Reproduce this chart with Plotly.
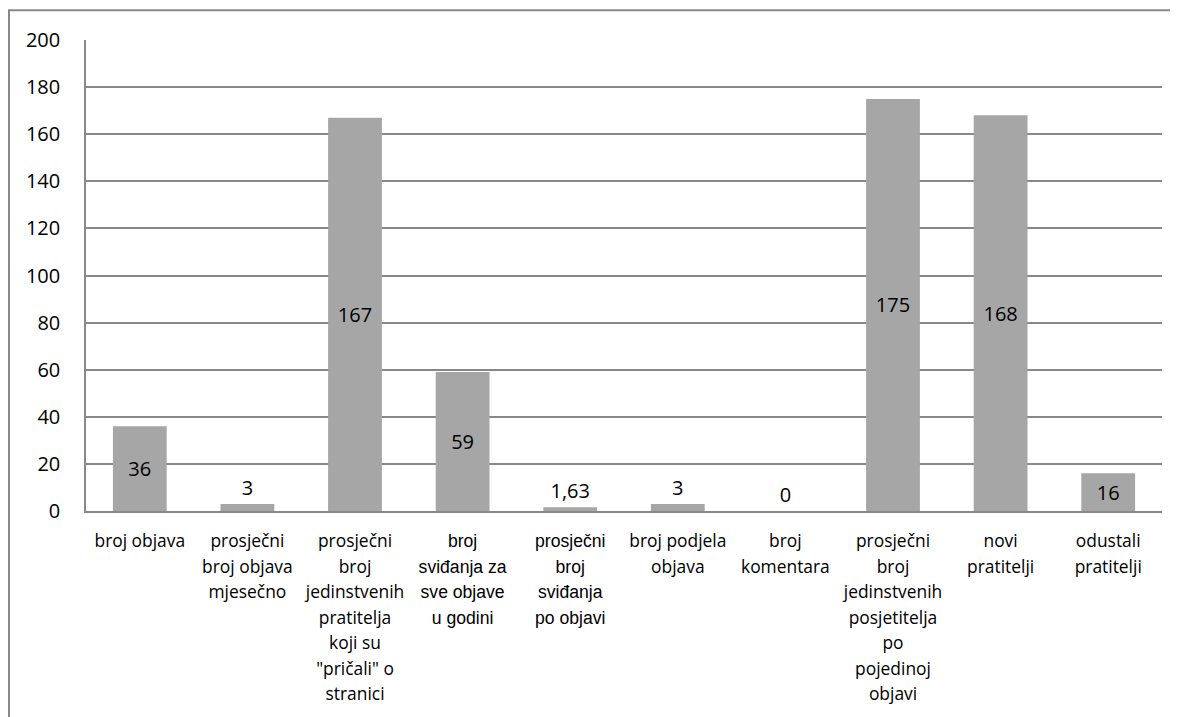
import plotly.graph_objects as go

categories = [
    "broj objava",
    "prosječni<br>broj objava<br>mjesečno",
    "prosječni<br>broj<br>jedinstvenih<br>pratitelja<br>koji su<br>\"pričali\" o<br>stranici",
    "broj<br>sviđanja za<br>sve objave<br>u godini",
    "prosječni<br>broj<br>sviđanja<br>po objavi",
    "broj podjela<br>objava",
    "broj<br>komentara",
    "prosječni<br>broj<br>jedinstvenih<br>posjetitelja<br>po<br>pojedinoj<br>objavi",
    "novi<br>pratitelji",
    "odustali<br>pratitelji",
]
values = [36, 3, 167, 59, 1.63, 3, 0, 175, 168, 16]
value_labels = ["36", "3", "167", "59", "1,63", "3", "0", "175", "168", "16"]
y_ticks = [0, 20, 40, 60, 80, 100, 120, 140, 160, 180, 200]

FONT = "Open Sans"
arial_idx = {3, 4}
ticktext = []
for i, c in enumerate(categories):
    if i in arial_idx:
        ticktext.append("<span style=\"font-family:'Liberation Sans';font-size:17.6px\">" + c + "</span>")
    else:
        ticktext.append('<span style="font-size:17.4px">' + c + '</span>')

positions = ["inside" if v >= 10 else "outside" for v in values]

# The page body adds an 8px offset; figure sized to fit the window.
W, H = 1170, 709

fig = go.Figure(go.Bar(
    x=list(range(len(categories))),
    y=values,
    text=value_labels,
    textposition=positions,
    insidetextanchor="middle",
    constraintext="none",
    cliponaxis=False,
    textfont=dict(family=FONT, size=20, color="black"),
    marker=dict(color="#A6A6A6", line=dict(width=0)),
))

fig.update_layout(
    width=W, height=H,
    margin=dict(l=78, r=16, t=32, b=204),
    paper_bgcolor="white", plot_bgcolor="white",
    bargap=0.5,
    showlegend=False,
    font=dict(family=FONT, color="black"),
    xaxis=dict(
        tickmode="array",
        tickvals=list(range(len(categories))),
        ticktext=ticktext,
        tickfont=dict(family=FONT, size=19.6, color="black"),
        showgrid=False,
        showline=True, linecolor="#888888", linewidth=1.5,
        ticks="", range=[-0.5, len(categories) - 0.5],
        tickangle=0, ticklabelstandoff=11,
    ),
    yaxis=dict(
        range=[0, 200],
        tickmode="array", tickvals=y_ticks,
        tickfont=dict(family=FONT, size=20, color="black"),
        showgrid=True, gridcolor="#888888", gridwidth=1.5,
        showline=True, linecolor="#888888", linewidth=1.5,
        zeroline=False,
        ticks="", ticklabelstandoff=20,
    ),
    shapes=[dict(
        type="rect", xref="paper", yref="paper",
        x0=(1 - 78) / 1076, x1=1.2,
        y0=-1.0, y1=(505 - 2) / 473,
        line=dict(color="#888888", width=2),
        fillcolor="rgba(0,0,0,0)", layer="below",
    )],
)

fig.write_html("out.html")
